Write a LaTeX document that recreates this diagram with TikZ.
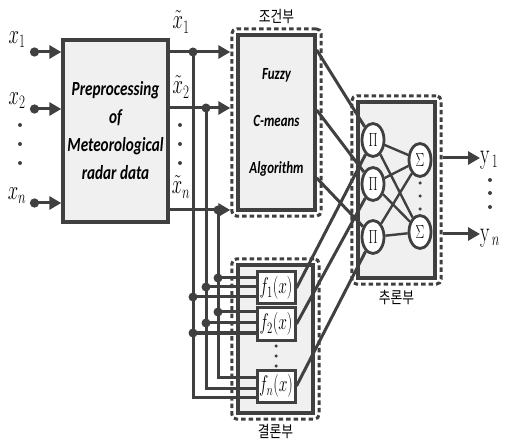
\documentclass[tikz,border=0pt]{standalone}
\usepackage{fontspec}
\newfontfamily\boxfont[FakeStretch=0.76]{Carlito}
\newfontfamily\krfont[FakeStretch=0.8]{Noto Sans CJK KR}
\usetikzlibrary{shapes.geometric, arrows.meta, positioning, fit}
\definecolor{wiregray}{HTML}{404040}
\definecolor{panelgray}{HTML}{F0F0F0}
\newcommand{\tallsym}[1]{\scalebox{0.75}[1.1]{#1}}

\begin{document}
\begin{tikzpicture}[x=1pt, y=-1pt,
    wire/.style={draw=wiregray, line width=3pt},
    feed/.style={wire, -{Triangle[length=12pt, width=13pt]}},
    infeed/.style={wire, {Circle[length=9pt]}-{Triangle[length=12pt, width=13pt]}},
    panel/.style={rectangle, draw=wiregray, line width=3.4pt, fill=panelgray, inner sep=0pt},
    group/.style={rectangle, draw=wiregray, line width=3pt, dash pattern=on 4.5pt off 3pt, rounded corners=5pt, inner sep=4.5pt},
    fbox/.style={rectangle, draw=wiregray, line width=3pt, fill=white, minimum width=38pt, minimum height=32pt, inner sep=0pt, font=\fontsize{21}{21}\selectfont},
    unit/.style={ellipse, draw=wiregray, line width=2.8pt, fill=white, minimum width=22pt, minimum height=33pt, inner sep=0pt, font=\fontsize{19}{19}\selectfont},
    junc/.style={circle, fill=wiregray, inner sep=0pt, minimum size=9pt},
    dotmark/.style={circle, fill=wiregray, inner sep=0pt, minimum size=4pt},
    grouplabel/.style={font=\krfont\fontsize{16}{16}\selectfont, inner sep=1pt},
    boxtext/.style={font=\boxfont\bfseries\itshape\fontsize{20}{28}\selectfont, align=center},
    condtext/.style={font=\boxfont\bfseries\itshape\fontsize{17}{47}\selectfont, align=center},
    mathlabel/.style={font=\fontsize{26}{26}\selectfont, inner sep=0pt}
]
\useasboundingbox (0,0) rectangle (506,446);

% blocks
\node (pre) [panel, minimum width=105pt, minimum height=182pt, boxtext] at (115.5,131) {Preprocessing\\of\\Meteorological\\radar data};
\node (cond) [panel, minimum width=77pt, minimum height=175pt, condtext] at (276.5,122.5) {Fuzzy\\C-means\\Algorithm};
\node (condgrp) [group, fit=(cond)] {};
\node [grouplabel, above=2pt of condgrp] {조건부};

\node (conseq) [panel, minimum width=75pt, minimum height=148pt] at (275.5,339) {};
\node (conseqgrp) [group, fit=(conseq)] {};
\node [grouplabel, below=2pt of conseqgrp] {결론부};
\node (f1) [fbox] at (276,288) {\tallsym{$f_1(x)$}};
\node (f2) [fbox] at (276,324) {\tallsym{$f_2(x)$}};
\node (fn) [fbox] at (276,386) {\tallsym{$f_n(x)$}};

\node (infer) [panel, minimum width=77pt, minimum height=176pt] at (396.5,190) {};
\node (infergrp) [group, fit=(infer)] {};
\node [grouplabel, below=3pt of infergrp] {추론부};
\node (p1) [unit] at (373,140) {\tallsym{$\Pi$}};
\node (p2) [unit] at (373,184) {\tallsym{$\Pi$}};
\node (p3) [unit] at (373,237) {\tallsym{$\Pi$}};
\node (s1) [unit] at (420,160) {\tallsym{$\Sigma$}};
\node (s2) [unit] at (420,232) {\tallsym{$\Sigma$}};

% inputs
\node (x1) [mathlabel] at (17,40) {\tallsym{$x_1$}};
\node (x2) [mathlabel] at (17,101) {\tallsym{$x_2$}};
\node (xn) [mathlabel] at (17,196) {\tallsym{$x_n$}};
\coordinate (in1) at (30,52);
\coordinate (in2) at (30,109);
\coordinate (inn) at (30,203);
\draw[infeed] (in1) -- (pre.west |- in1);
\draw[infeed] (in2) -- (pre.west |- in2);
\draw[infeed] (inn) -- (pre.west |- inn);

% preprocessed outputs
\node (t1) [mathlabel] at (181,22) {\tallsym{$\tilde{x}_1$}};
\node (t2) [mathlabel] at (181,87) {\tallsym{$\tilde{x}_2$}};
\node (tn) [mathlabel] at (181,187) {\tallsym{$\tilde{x}_n$}};
\coordinate (o1) at (pre.east |- in1);
\coordinate (o2) at (168,108);
\coordinate (on) at (168,210);
\draw[feed] (o1) -- (o1 -| condgrp.west);
\draw[feed] (o2) -- (o2 -| condgrp.west);
\draw[feed] (on) -- (on -| condgrp.west);

% buses to consequent part
\foreach \yo/\bx/\ya/\yb/\yc in {52/193/297/333/397, 108/206/287/323/388, 210/218/278/312/377} {
  \node[junc] at (\bx,\yo) {};
  \draw[wire] (\bx,\yo) |- (fn.west |- 0,\yc);
  \node[junc] at (\bx,\ya) {};
  \draw[wire] (\bx,\ya) -- (f1.west |- 0,\ya);
  \node[junc] at (\bx,\yb) {};
  \draw[wire] (\bx,\yb) -- (f2.west |- 0,\yb);
}

% condition and consequent into product units
\coordinate (c1) at (cond.east |- 0,50);
\coordinate (c2) at (cond.east |- 0,110);
\coordinate (c3) at (cond.east |- 0,178);
\draw[wire] (c1) -- (p1);
\draw[wire] (c2) -- (p2);
\draw[wire] (c3) -- (p3);
\draw[wire] (f1.east) -- (p1);
\draw[wire] (f2.east) -- (p2);
\draw[wire] (fn.east) -- (p3);
\foreach \p in {p1,p2,p3}
  \foreach \s in {s1,s2}
    \draw[wire, line width=2.4pt] (\p) -- (\s);

% outputs
\node (y1) [mathlabel, anchor=west] at (480,160) {\tallsym{$\mathrm{y}_{\,1}$}};
\node (yn) [mathlabel, anchor=west] at (480,238) {\tallsym{$\mathrm{y}_{\,n}$}};
\draw[feed] (infergrp.east |- 0,158) -- (y1.west |- 0,158);
\draw[feed] (infergrp.east |- 0,234) -- (yn.west |- 0,234);

% ellipsis dots
\foreach \yy in {125,144,163} {
  \node[dotmark] at (20,\yy) {};
  \node[dotmark] at (180,\yy) {};
}
\foreach \yy in {180,193,207} \node[dotmark] at (490,\yy) {};
\foreach \yy in {183,196,209} \node[dotmark, minimum size=3.5pt] at (420,\yy) {};
\foreach \yy in {346,356,366} \node[dotmark, minimum size=3.5pt] at (276,\yy) {};

\end{tikzpicture}
\end{document}
